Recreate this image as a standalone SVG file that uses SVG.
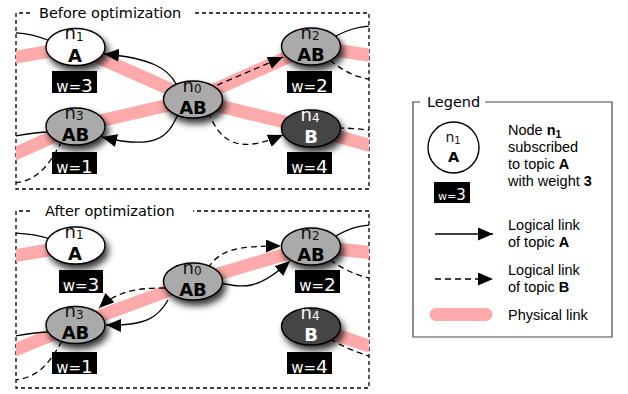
<svg xmlns="http://www.w3.org/2000/svg" width="628" height="394" viewBox="0 0 628 394">
<style>
.bg{fill:#fff}
.frame{fill:none;stroke:#000;stroke-width:1.3;stroke-dasharray:4,3}
.title{font-family:"DejaVu Sans",Verdana,sans-serif;font-size:14.5px;fill:#000}
.phys{stroke:#ffaaaa;stroke-width:13;fill:none;stroke-linecap:butt}
.la{fill:none;stroke:#000;stroke-width:1.3}
.lb{fill:none;stroke:#000;stroke-width:1.3;stroke-dasharray:6,4}
.node{stroke:#000;stroke-width:1.4}
.gray{fill:#aaaaaa}
.white{fill:#fff}
.dark{fill:#444444}
.nt{font-family:"DejaVu Sans",Verdana,sans-serif;font-size:18px;fill:#111;text-anchor:middle}
.nt .s{font-size:12px}
.lt{font-family:"DejaVu Sans",Verdana,sans-serif;font-size:18px;font-weight:bold;fill:#000;text-anchor:middle}
.inv{fill:#fff}
.wbox{fill:#000}
.wt{font-family:"DejaVu Sans",Verdana,sans-serif;font-size:15px;fill:#fff;text-anchor:middle}
.wt .d{font-size:18.5px}
.leg{font-family:"Liberation Sans",Arial,sans-serif;font-size:14.5px;fill:#000}
</style>
<defs>
<marker id="ah" markerUnits="userSpaceOnUse" markerWidth="16" markerHeight="13" refX="15" refY="6.5" orient="auto">
<path d="M0,0 L15,6.5 L0,13 z" fill="#000"/>
</marker>
<filter id="sh" x="-30%" y="-30%" width="170%" height="180%">
<feGaussianBlur in="SourceAlpha" stdDeviation="3.5"/>
<feOffset dx="3" dy="5" result="b"/>
<feComponentTransfer><feFuncA type="linear" slope="0.8"/></feComponentTransfer>
<feMerge><feMergeNode/><feMergeNode in="SourceGraphic"/></feMerge>
</filter>
<clipPath id="ct"><rect x="16" y="13" width="353" height="176"/></clipPath>
<clipPath id="cb"><rect x="16" y="211" width="353" height="177"/></clipPath>
</defs>
<rect class="bg" x="0" y="0" width="628" height="394"/>

<!-- frames -->
<g id="frame-before">
<path class="frame" d="M30,13 H16 V189 H369 V13 H193"/>
<text class="title" x="39" y="18">Before optimization</text>
</g>
<g id="frame-after">
<path class="frame" d="M30,211 H16 V388 H369 V211 H193"/>
<text class="title" x="45" y="216">After optimization</text>
</g>

<!-- physical links -->
<g id="physical-links">
<g clip-path="url(#ct)">
<path class="phys" d="M75.5,47 L10,58"/>
<path class="phys" d="M75.5,47 L193,99.5"/>
<path class="phys" d="M75.5,126.5 L193,99.5"/>
<path class="phys" d="M75.5,126.5 L10,156"/>
<path class="phys" d="M193,99.5 L311,46.5"/>
<path class="phys" d="M193,99.5 L311,128.5 L375,147"/>
<path class="phys" d="M311,46.5 L375,56"/>
</g>
<g clip-path="url(#cb)">
<path class="phys" d="M75.5,245.5 L10,256.5"/>
<path class="phys" d="M75.5,325 L10,352"/>
<path class="phys" d="M75.5,325 L193,281.5"/>
<path class="phys" d="M193,281.5 L311,246.5"/>
<path class="phys" d="M311,246.5 L375,253"/>
<path class="phys" d="M311,326.5 L375,348"/>
</g>
</g>

<!-- logical links -->
<g id="logical-links">
<g clip-path="url(#ct)">
<path class="la" d="M176,84 C168,68 150,58 104,54" marker-end="url(#ah)"/>
<path class="la" d="M178,114 C168,138 155,150 102,137" marker-end="url(#ah)"/>
<path class="lb" d="M208,89 L283,57" marker-end="url(#ah)"/>
<path class="lb" d="M208,112 C222,145 240,153 283,135" marker-end="url(#ah)"/>
<path class="la" d="M10,33 C25,32 38,36 50,41"/>
<path class="la" d="M10,137 C25,134 38,132 50,132"/>
<path class="lb" d="M62,141 C50,163 38,183 10,183"/>
<path class="la" d="M336,36 C348,30 358,26 375,26"/>
<path class="lb" d="M330,60 C342,70 355,78 375,80"/>
<path class="lb" d="M338,128 C350,128 360,129 375,131"/>
</g>
<g clip-path="url(#cb)">
<path class="la" d="M10,233 C25,233 38,235 50,239"/>
<path class="la" d="M10,337 C25,334 38,332 50,332"/>
<path class="lb" d="M62,341 C50,362 38,380 10,380"/>
<path class="lb" d="M165,288 C140,288 118,290 99,308" marker-end="url(#ah)"/>
<path class="la" d="M168,300 C158,318 145,326 106,325" marker-end="url(#ah)"/>
<path class="lb" d="M208,268 C220,250 235,246 281,246" marker-end="url(#ah)"/>
<path class="la" d="M220,283 C245,288 258,290 290,261" marker-end="url(#ah)"/>
<path class="la" d="M336,236 C348,229 358,225 375,225"/>
<path class="lb" d="M330,260 C342,268 355,276 375,279"/>
<path class="lb" d="M330,339 C342,346 355,352 375,358"/>
</g>
</g>

<!-- before: nodes -->
<g id="b-n1">
<ellipse class="node white" filter="url(#sh)" cx="75.5" cy="47" rx="29.5" ry="18.5"/>
<text class="nt" x="74" y="39">n<tspan class="s" dy="1.5">1</tspan></text>
<text class="lt" x="75" y="61.5">A</text>
<rect class="wbox" x="52" y="71" width="45" height="22"/>
<text class="wt" x="74.5" y="91.5">w=<tspan class="d">3</tspan></text>
</g>
<g id="b-n0">
<ellipse class="node gray" filter="url(#sh)" cx="193" cy="99.5" rx="29.5" ry="18.5"/>
<text class="nt" x="192" y="91.5">n<tspan class="s" dy="1.5">0</tspan></text>
<text class="lt" x="193" y="113.5">AB</text>
</g>
<g id="b-n2">
<ellipse class="node gray" filter="url(#sh)" cx="311" cy="46.5" rx="29.5" ry="18.5"/>
<text class="nt" x="310" y="38.5">n<tspan class="s" dy="1.5">2</tspan></text>
<text class="lt" x="311" y="60.5">AB</text>
<rect class="wbox" x="287" y="71" width="45" height="22"/>
<text class="wt" x="309.5" y="91.5">w=<tspan class="d">2</tspan></text>
</g>
<g id="b-n3">
<ellipse class="node gray" filter="url(#sh)" cx="75.5" cy="126.5" rx="29.5" ry="18.5"/>
<text class="nt" x="74" y="118.5">n<tspan class="s" dy="1.5">3</tspan></text>
<text class="lt" x="75.5" y="140.5">AB</text>
<rect class="wbox" x="52" y="152" width="45" height="22"/>
<text class="wt" x="74.5" y="172.5">w=<tspan class="d">1</tspan></text>
</g>
<g id="b-n4">
<ellipse class="node dark" filter="url(#sh)" cx="311" cy="128.5" rx="29.5" ry="18.5"/>
<text class="nt inv" x="310" y="120.5">n<tspan class="s" dy="1.5">4</tspan></text>
<text class="lt inv" x="311" y="142.5">B</text>
<rect class="wbox" x="287" y="152" width="45" height="22"/>
<text class="wt" x="309.5" y="172.5">w=<tspan class="d">4</tspan></text>
</g>

<!-- after: nodes -->
<g id="a-n1">
<ellipse class="node white" filter="url(#sh)" cx="75.5" cy="245.5" rx="29.5" ry="18.5"/>
<text class="nt" x="74" y="237.5">n<tspan class="s" dy="1.5">1</tspan></text>
<text class="lt" x="75" y="260">A</text>
<rect class="wbox" x="59" y="270" width="44" height="23"/>
<text class="wt" x="81" y="291">w=<tspan class="d">3</tspan></text>
</g>
<g id="a-n0">
<ellipse class="node gray" filter="url(#sh)" cx="193" cy="281.5" rx="29.5" ry="18.5"/>
<text class="nt" x="192" y="273.5">n<tspan class="s" dy="1.5">0</tspan></text>
<text class="lt" x="193" y="295.5">AB</text>
</g>
<g id="a-n2">
<ellipse class="node gray" filter="url(#sh)" cx="311" cy="246.5" rx="29.5" ry="18.5"/>
<text class="nt" x="310" y="238.5">n<tspan class="s" dy="1.5">2</tspan></text>
<text class="lt" x="311" y="260.5">AB</text>
<rect class="wbox" x="295" y="270" width="45" height="23"/>
<text class="wt" x="317.5" y="291">w=<tspan class="d">2</tspan></text>
</g>
<g id="a-n3">
<ellipse class="node gray" filter="url(#sh)" cx="75.5" cy="325" rx="29.5" ry="18.5"/>
<text class="nt" x="74" y="317">n<tspan class="s" dy="1.5">3</tspan></text>
<text class="lt" x="75.5" y="339">AB</text>
<rect class="wbox" x="52" y="352" width="45" height="22"/>
<text class="wt" x="74.5" y="372.5">w=<tspan class="d">1</tspan></text>
</g>
<g id="a-n4">
<ellipse class="node dark" filter="url(#sh)" cx="311" cy="326.5" rx="29.5" ry="18.5"/>
<text class="nt inv" x="310" y="318.5">n<tspan class="s" dy="1.5">4</tspan></text>
<text class="lt inv" x="311" y="340.5">B</text>
<rect class="wbox" x="287" y="352" width="45" height="22"/>
<text class="wt" x="309.5" y="372.5">w=<tspan class="d">4</tspan></text>
</g>

<!-- legend -->
<g id="legend">
<path d="M420,102 H413 V337 H612 V102 H485" fill="none" stroke="#444" stroke-width="1.2"/>
<text class="title" x="427" y="107">Legend</text>
<g id="legend-node">
<circle cx="453.5" cy="147.5" r="25.5" fill="#fff" stroke="#000" stroke-width="1.4"/>
<text class="nt" style="font-size:14px" x="453" y="142">n<tspan dy="2" style="font-size:10px">1</tspan></text>
<text class="lt" style="font-size:14.5px" x="453.5" y="161.5">A</text>
<rect class="wbox" x="434" y="182" width="36" height="21"/>
<text class="wt" style="font-size:11px" x="452" y="200">w=<tspan style="font-size:15px">3</tspan></text>
</g>
<text class="leg" x="508" y="135">Node <tspan font-weight="bold">n</tspan><tspan font-weight="bold" font-size="10.5" dy="2.5">1</tspan></text>
<text class="leg" x="508" y="152">subscribed</text>
<text class="leg" x="508" y="169">to topic <tspan font-weight="bold">A</tspan></text>
<text class="leg" x="508" y="186">with weight <tspan font-weight="bold">3</tspan></text>
<path class="la" d="M435,234 H493" marker-end="url(#ah)"/>
<text class="leg" x="508" y="230">Logical link</text>
<text class="leg" x="508" y="247">of topic <tspan font-weight="bold">A</tspan></text>
<path class="lb" d="M435,279 H493" marker-end="url(#ah)"/>
<text class="leg" x="508" y="275">Logical link</text>
<text class="leg" x="508" y="292">of topic <tspan font-weight="bold">B</tspan></text>
<path d="M436,314.5 H486" stroke="#ffaaaa" stroke-width="13" stroke-linecap="round"/>
<text class="leg" x="508" y="320">Physical link</text>
</g>
</svg>
